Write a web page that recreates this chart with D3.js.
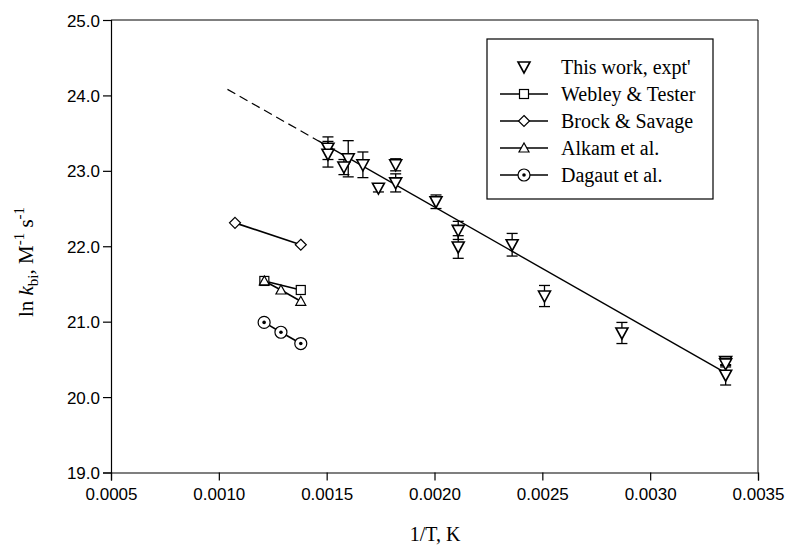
<!DOCTYPE html>
<html>
<head>
<meta charset="utf-8">
<title>ln k vs 1/T</title>
<script src="https://cdn.jsdelivr.net/npm/d3@7"></script>
<style>
  body { margin: 0; background: #fff; }
  svg { display: block; }
</style>
</head>
<body>
<script>
// this work: 1/T, ln k, error bar
var expX   = [0.001506, 0.001506, 0.00160, 0.00158, 0.001668, 0.00174, 0.00182, 0.00182,
              0.002007, 0.00211, 0.00211, 0.00236, 0.00251, 0.002869, 0.00335, 0.00335, 0.00335];
var expY   = [23.30, 23.22, 23.16, 23.05, 23.08, 22.77, 23.08, 22.84,
              22.59, 22.21, 21.99, 22.02, 21.34, 20.85, 20.47, 20.44, 20.29];
var expErr = [0.15, 0.17, 0.24, 0.10, 0.17, 0.05, 0.08, 0.12,
              0.09, 0.12, 0.15, 0.15, 0.14, 0.14, 0.04, 0.04, 0.13];

// fit line (dashed = extrapolated part)
var fitDashX = [0.00104, 0.00146];
var fitDashY = [24.08, 23.40];
var fitX = [0.00146, 0.00335];
var fitY = [23.40, 20.32];

// literature
var webleyX = [0.001211, 0.00138];
var webleyY = [21.54, 21.42];
var brockX  = [0.001075, 0.00138];
var brockY  = [22.31, 22.02];
var alkamX  = [0.001211, 0.001288, 0.00138];
var alkamY  = [21.54, 21.42, 21.27];
var dagautX = [0.00121, 0.001288, 0.00138];
var dagautY = [20.99, 20.86, 20.71];

var xTicks = [0.0005, 0.0010, 0.0015, 0.0020, 0.0025, 0.0030, 0.0035];
var yTicks = [19, 20, 21, 22, 23, 24, 25];

var legendNames = ["This work, expt'", "Webley & Tester", "Brock & Savage", "Alkam et al.", "Dagaut et al."];
var legendSyms  = ["tdown", "square", "diamond", "tup", "cdot"];

var width = 786, height = 546;
var x0 = 111, x1 = 758, y0 = 472.5, y1 = 20;

var xScale = d3.scaleLinear().domain([0.0005, 0.0035]).range([x0, x1]);
var yScale = d3.scaleLinear().domain([19, 25]).range([y0, y1]);

var svg = d3.select("body").append("svg")
    .attr("width", width)
    .attr("height", height);

function zip(xs, ys) { return xs.map(function(v, i) { return [v, ys[i]]; }); }

var line = d3.line()
    .x(function(d) { return xScale(d[0]); })
    .y(function(d) { return yScale(d[1]); });

// frame top / right
svg.append("line").attr("x1", x0).attr("x2", x1).attr("y1", y1).attr("y2", y1)
    .attr("stroke", "#000").attr("stroke-width", 1);
svg.append("line").attr("x1", x1).attr("x2", x1).attr("y1", y1).attr("y2", y0)
    .attr("stroke", "#000").attr("stroke-width", 1);

// axes
var xAxis = svg.append("g")
    .attr("transform", "translate(0," + y0 + ")")
    .call(d3.axisBottom(xScale).tickValues(xTicks).tickSize(8).tickPadding(7)
        .tickFormat(d3.format(".4f")));
var yAxis = svg.append("g")
    .attr("transform", "translate(" + x0 + ",0)")
    .call(d3.axisLeft(yScale).tickValues(yTicks).tickSize(8).tickPadding(3)
        .tickFormat(d3.format(".1f")));

[xAxis, yAxis].forEach(function(g) {
  g.select(".domain").attr("stroke", "#000").attr("stroke-width", 1.2);
  g.selectAll(".tick line").attr("stroke", "#000").attr("stroke-width", 1.2);
  g.selectAll(".tick text")
    .attr("fill", "#000")
    .style("font-family", "'Liberation Sans', Arial, sans-serif")
    .style("font-size", "17px");
});
yAxis.selectAll(".tick text").attr("dy", "0.36em");

// symbols
function drawSym(g, type, cx, cy) {
  if (type == "tdown") {
    g.append("path")
      .attr("d", "M" + (cx - 6) + "," + (cy - 5) + "L" + (cx + 6) + "," + (cy - 5) + "L" + cx + "," + (cy + 6) + "Z")
      .attr("fill", "#fff").attr("stroke", "#000").attr("stroke-width", 1.6);
  } else if (type == "tup") {
    g.append("path")
      .attr("d", "M" + (cx - 5) + "," + (cy + 4) + "L" + (cx + 5) + "," + (cy + 4) + "L" + cx + "," + (cy - 5) + "Z")
      .attr("fill", "#fff").attr("stroke", "#000").attr("stroke-width", 1.2);
  } else if (type == "square") {
    g.append("rect").attr("x", cx - 4.5).attr("y", cy - 4.5).attr("width", 9).attr("height", 9)
      .attr("fill", "#fff").attr("stroke", "#000").attr("stroke-width", 1.2);
  } else if (type == "diamond") {
    g.append("path")
      .attr("d", "M" + cx + "," + (cy - 5.5) + "L" + (cx + 5.5) + "," + cy + "L" + cx + "," + (cy + 5.5) + "L" + (cx - 5.5) + "," + cy + "Z")
      .attr("fill", "#fff").attr("stroke", "#000").attr("stroke-width", 1.2);
  } else if (type == "cdot") {
    g.append("circle").attr("cx", cx).attr("cy", cy).attr("r", 6)
      .attr("fill", "#fff").attr("stroke", "#000").attr("stroke-width", 1.2);
    g.append("circle").attr("cx", cx).attr("cy", cy).attr("r", 1.8).attr("fill", "#000");
  }
}

// fit lines
svg.append("path").datum(zip(fitDashX, fitDashY)).attr("d", line)
    .attr("fill", "none").attr("stroke", "#000").attr("stroke-width", 1.2)
    .attr("stroke-dasharray", "9,5");
svg.append("path").datum(zip(fitX, fitY)).attr("d", line)
    .attr("fill", "none").attr("stroke", "#000").attr("stroke-width", 1.4);

// literature series
var lit = [
  {xs: webleyX, ys: webleyY, sym: "square"},
  {xs: brockX,  ys: brockY,  sym: "diamond"},
  {xs: alkamX,  ys: alkamY,  sym: "tup"},
  {xs: dagautX, ys: dagautY, sym: "cdot"}
];
lit.forEach(function(s) {
  var pts = zip(s.xs, s.ys);
  svg.append("path").datum(pts).attr("d", line)
    .attr("fill", "none").attr("stroke", "#000").attr("stroke-width", 1.6);
  var g = svg.append("g");
  pts.forEach(function(p) { drawSym(g, s.sym, xScale(p[0]), yScale(p[1])); });
});

// this work, with error bars
var eg = svg.append("g");
expX.forEach(function(xv, i) {
  var cx = xScale(xv), ya = yScale(expY[i] + expErr[i]), yb = yScale(expY[i] - expErr[i]);
  eg.append("line").attr("x1", cx).attr("x2", cx).attr("y1", ya).attr("y2", yb)
    .attr("stroke", "#000").attr("stroke-width", 1.3);
  [ya, yb].forEach(function(yy) {
    eg.append("line").attr("x1", cx - 5.5).attr("x2", cx + 5.5).attr("y1", yy).attr("y2", yy)
      .attr("stroke", "#000").attr("stroke-width", 1.3);
  });
});
expX.forEach(function(xv, i) {
  drawSym(eg, "tdown", xScale(xv), yScale(expY[i]));
});

// legend
var lg = svg.append("g");
lg.append("rect").attr("x", 487).attr("y", 39).attr("width", 226).attr("height", 160)
  .attr("fill", "#fff").attr("stroke", "#000").attr("stroke-width", 1.2);
legendNames.forEach(function(name, i) {
  var ly = 67 + i * 27;
  if (i > 0) {
    lg.append("line").attr("x1", 500).attr("x2", 548).attr("y1", ly).attr("y2", ly)
      .attr("stroke", "#000").attr("stroke-width", 1.6);
  }
  drawSym(lg, legendSyms[i], 524, ly);
  lg.append("text").attr("x", 561).attr("y", ly + 6.5)
    .style("font-family", "'Liberation Serif', 'Times New Roman', serif")
    .style("font-size", "20px")
    .text(name);
});

// axis titles
svg.append("text")
  .attr("x", 435).attr("y", 541)
  .attr("text-anchor", "middle")
  .style("font-family", "'Liberation Serif', 'Times New Roman', serif")
  .style("font-size", "20px")
  .text("1/T, K");

var yl = svg.append("text")
  .attr("transform", "translate(33,262) rotate(-90)")
  .attr("text-anchor", "middle")
  .style("font-family", "'Liberation Serif', 'Times New Roman', serif")
  .style("font-size", "21px");
yl.append("tspan").text("ln ");
yl.append("tspan").style("font-style", "italic").text("k");
yl.append("tspan").attr("dy", 5).style("font-size", "15px").text("bi");
yl.append("tspan").attr("dy", -5).text(", M");
yl.append("tspan").attr("dy", -9).style("font-size", "15px").text("-1");
yl.append("tspan").attr("dy", 9).text(" s");
yl.append("tspan").attr("dy", -9).style("font-size", "15px").text("-1");
</script>
</body>
</html>
